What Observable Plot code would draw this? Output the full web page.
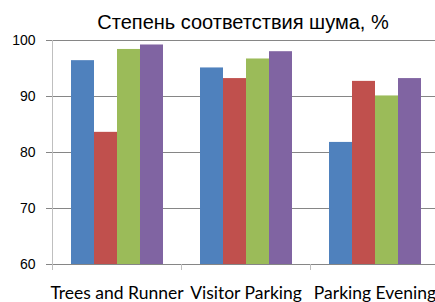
<!DOCTYPE html>
<html><head><meta charset="utf-8">
<script src="https://cdn.jsdelivr.net/npm/d3@7"></script>
<script src="https://cdn.jsdelivr.net/npm/@observablehq/plot@0.6"></script>
<style>
body{margin:0;background:#fff;}
#wrap{width:435px;height:302px;overflow:hidden;}
#title{height:34px;box-sizing:border-box;padding-top:10px;padding-left:51px;line-height:24px;font-size:20px;font-family:"Liberation Sans",Arial,sans-serif;text-align:center;color:#000;white-space:nowrap;}
svg{display:block;}
</style></head>
<body><div id="wrap"><div id="title">Степень соответствия шума, %</div></div>
<script>
const categories = ["Trees and Runner", "Visitor Parking", "Parking Evening"];
const series = ["Серия 1", "Серия 2", "Серия 3", "Серия 4"];
const series1 = [96.4, 95.1, 81.8];
const series2 = [83.6, 93.2, 92.7];
const series3 = [98.4, 96.7, 90.1];
const series4 = [99.2, 98.0, 93.2];
const yTicks = [60, 70, 80, 90, 100];
const colors = ["#4F81BD", "#C0504D", "#9BBB59", "#8064A2"];

const allSeries = [series1, series2, series3, series4];
const data = [];
categories.forEach((c, i) => series.forEach((s, j) => data.push({cat: c, series: s, value: allSeries[j][i]})));

const chart = Plot.plot({
  width: 435, height: 268,
  marginTop: 6, marginBottom: 38, marginLeft: 51, marginRight: 0,
  style: {background: "#fff", overflow: "visible"},
  fx: {domain: categories, range: [51, 439.5], paddingInner: 0, paddingOuter: 0, label: null},
  x: {domain: series, paddingInner: 0, paddingOuter: 0.745, axis: null},
  y: {domain: [60, 100], clamp: true, label: null},
  color: {domain: series, range: colors},
  marks: [
    Plot.ruleY(yTicks, {stroke: "#868686", strokeWidth: 1}),
    Plot.barY(data, {fx: "cat", x: "series", y: "value", fill: "series"}),
    Plot.axisY({ticks: yTicks, tickSize: 6, tickPadding: 11, stroke: "#868686", fill: "#000", fontSize: 14, fontFamily: "Liberation Sans, Arial, sans-serif", label: null}),
    Plot.axisFx({anchor: "bottom", tickSize: 0, tickPadding: 22, label: null, fill: "#000", fontSize: 17.5, fontFamily: "Lato, sans-serif"})
  ]
});
document.getElementById("wrap").appendChild(chart);

// axis line and category boundary ticks, placed through Plot's scales
const fx = chart.scale("fx"), y = chart.scale("y");
const svg = d3.select(chart);
const bounds = categories.map(c => fx.apply(c)).concat([fx.apply(categories[categories.length - 1]) + fx.bandwidth]);
const yb = y.apply(yTicks[0]), yt = y.apply(yTicks[yTicks.length - 1]);
svg.append("line").attr("x1", bounds[0] + 0.5).attr("x2", bounds[0] + 0.5).attr("y1", yt).attr("y2", yb + 6).attr("stroke", "#bfbfbf");
svg.append("g").selectAll("line").data(bounds.slice(1)).join("line")
  .attr("x1", d => Math.round(d) + 0.5).attr("x2", d => Math.round(d) + 0.5)
  .attr("y1", yb).attr("y2", yb + 6).attr("stroke", "#bfbfbf");
</script></body></html>
